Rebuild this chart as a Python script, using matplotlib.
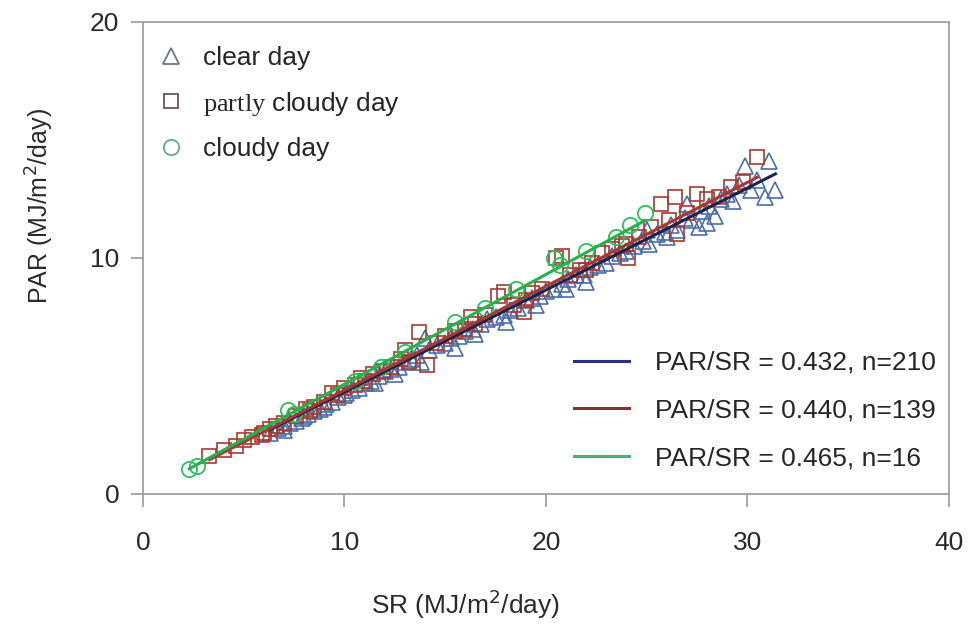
import matplotlib
matplotlib.use('Agg')
import matplotlib.pyplot as plt
from matplotlib.lines import Line2D

plt.rcParams['font.family'] = ['Liberation Sans', 'DejaVu Sans']
plt.rcParams['mathtext.fontset'] = 'custom'
plt.rcParams['mathtext.rm'] = 'Liberation Serif'

# clear day (triangles)
clear_sr = [6.3, 6.7, 7.0, 7.3, 7.6, 7.9, 8.2, 8.5, 8.8, 9.1, 9.4, 9.7, 10.1, 10.4, 10.7,
            11.0, 11.3, 11.7, 12.0, 12.3, 12.7, 13.0, 13.3, 13.6, 14.0, 14.2, 14.6, 15.0,
            15.3, 15.7, 16.0, 16.4, 16.8, 17.1, 17.5, 17.9, 18.2, 18.6, 19.0, 19.3, 19.7,
            20.0, 20.4, 20.8, 21.1, 21.5, 21.9, 22.2, 22.6, 23.0, 23.3, 23.7, 24.0, 24.4,
            24.8, 25.1, 25.5, 25.9, 26.2, 26.5, 26.9, 27.2, 27.6, 27.8, 28.1, 28.4, 28.7,
            29.0, 29.3, 29.6, 29.9, 30.2, 30.5, 30.9, 31.1, 31.4, 28.0, 27.0, 26.0, 25.0,
            22.0, 21.0, 19.5, 18.0, 16.5, 15.5, 13.8, 12.5, 11.5, 10.0, 9.0, 8.0, 7.0]
clear_par = [2.6, 2.8, 2.7, 3.0, 3.1, 3.2, 3.4, 3.5, 3.6, 3.8, 3.9, 4.1, 4.3, 4.4, 4.5,
             4.7, 4.8, 5.0, 5.2, 5.3, 5.4, 5.6, 5.7, 5.9, 6.6, 6.1, 6.3, 6.4,
             6.6, 6.7, 6.9, 7.0, 7.2, 7.4, 7.5, 7.6, 7.8, 7.9, 8.2, 8.3, 8.4,
             8.6, 8.7, 8.9, 9.1, 9.3, 9.3, 9.6, 9.7, 9.8, 10.1, 10.2, 10.3, 10.5,
             10.7, 10.6, 11.0, 11.1, 11.4, 11.2, 11.7, 11.6, 11.3, 12.0, 12.2, 11.8, 12.5,
             12.7, 12.4, 13.1, 13.9, 12.9, 13.3, 12.6, 14.1, 12.9, 11.5, 12.3, 10.9, 11.2,
             9.0, 8.7, 8.0, 7.3, 6.8, 6.2, 5.6, 5.1, 4.7, 4.2, 3.7, 3.3, 2.9]

# partly cloudy day (squares)
partly_sr = [3.3, 4.0, 4.6, 5.0, 5.4, 5.9, 6.3, 6.6, 7.0, 7.6, 8.1, 8.5, 9.0, 9.4, 9.7,
             10.0, 10.5, 11.0, 11.4, 11.9, 12.3, 12.8, 13.2, 13.7, 14.1, 14.6, 15.0, 15.5,
             16.0, 16.5, 17.0, 17.6, 17.9, 18.4, 18.9, 19.3, 19.8, 20.5, 20.8, 21.2, 21.7,
             22.3, 22.8, 23.3, 23.8, 24.1, 24.6, 25.2, 25.7, 26.1, 26.4, 26.5, 27.0, 27.5,
             28.0, 28.6, 29.2, 29.8, 30.5, 13.0, 16.3, 19.0, 22.0, 24.0, 10.8, 8.3, 6.0]
partly_par = [1.6, 1.85, 2.05, 2.3, 2.4, 2.5, 2.75, 2.9, 3.0, 3.3, 3.6, 3.7, 3.9, 4.3, 4.2,
              4.5, 4.6, 4.8, 5.1, 5.2, 5.4, 5.7, 5.6, 6.85, 5.45, 6.4, 6.7, 6.9,
              7.0, 7.2, 7.6, 8.4, 8.55, 8.0, 7.7, 8.5, 8.7, 10.0, 10.1, 9.3, 9.5,
              9.8, 10.2, 10.4, 10.5, 10.0, 10.9, 11.3, 12.3, 11.6, 12.6, 11.0, 11.9, 12.7,
              12.5, 12.6, 13.0, 13.2, 14.3, 6.1, 7.5, 8.2, 9.5, 10.6, 4.9, 3.5, 2.6]

# cloudy day (circles)
cloudy_sr = [2.3, 2.7, 7.2, 7.5, 10.5, 11.8, 13.0, 15.5, 17.0, 18.5, 20.4, 20.7, 22.0, 23.5, 24.2, 24.9]
cloudy_par = [1.05, 1.2, 3.55, 3.4, 4.8, 5.4, 6.0, 7.3, 7.9, 8.7, 10.0, 9.7, 10.3, 10.9, 11.4, 11.9]

# PAR/SR ratios and sample sizes
ratios = [0.432, 0.440, 0.465]
counts = [210, 139, 16]

fig = plt.figure(figsize=(9.73, 6.28), dpi=100)
ax = fig.add_axes([0.147, 0.2134, 0.828, 0.7516])

ax.plot(clear_sr, clear_par, '^', ms=11, mfc='none', mec='#4a6fab', mew=1.2)
ax.plot(partly_sr, partly_par, 's', ms=9.5, mfc='none', mec='#a8382f', mew=1.2)
ax.plot(cloudy_sr, cloudy_par, 'o', ms=11, mfc='none', mec='#2cbf5c', mew=1.3)

# fitted lines through origin
fit_cols = ['#1c2350', '#a63a2f', '#22b34c']
for xs, r, c in zip([clear_sr, partly_sr, cloudy_sr], ratios, fit_cols):
    x0, x1 = min(xs), max(xs)
    ax.plot([x0, x1], [r * x0, r * x1], color=c, lw=2.2)

ax.set_xlim(0, 40)
ax.set_ylim(0, 20)
ax.set_xticks([0, 10, 20, 30, 40])
ax.set_yticks([0, 10, 20])
for s in ax.spines.values():
    s.set_color('#a0a0a0')
    s.set_linewidth(1.3)
ax.tick_params(direction='out', length=9, width=1.3, color='#a0a0a0',
               labelsize=19, labelcolor='#2a2a2a')
ax.tick_params(axis='x', pad=18)
ax.tick_params(axis='y', pad=8)

ax.set_xlabel(r'SR (MJ/m$^{2}$/day)', fontsize=19, color='#2a2a2a',
              math_fontfamily='dejavusans')
ax.set_ylabel(r'PAR (MJ/m$^{2}$/day)', fontsize=18, color='#2a2a2a',
              math_fontfamily='dejavusans')
ax.xaxis.set_label_coords(0.40, -0.198)
ax.yaxis.set_label_coords(-0.108, 0.61)

# legend: markers
mk = [Line2D([], [], ls='none', marker='^', ms=12, mfc='none', mec='#6b7394', mew=1.3),
      Line2D([], [], ls='none', marker='s', ms=10, mfc='none', mec='#6e5454', mew=1.3),
      Line2D([], [], ls='none', marker='o', ms=11, mfc='none', mec='#5bb285', mew=1.3)]
leg1 = ax.legend(mk, ['clear day', r'$\mathrm{partly}$ cloudy day', 'cloudy day'],
                 loc='upper left', bbox_to_anchor=(0.02, 0.949), frameon=False,
                 fontsize=19, handlelength=0.9, handletextpad=0.75, labelspacing=0.74,
                 borderpad=0, borderaxespad=0)
for t in leg1.get_texts():
    t.set_color('#262626')
ax.add_artist(leg1)

# legend: fits
ln = [Line2D([], [], color=c, lw=2.2) for c in ['#2b3080', '#8e2e2e', '#47b07c']]
labels = ['PAR/SR = %.3f, n=%d' % (r, n) for r, n in zip(ratios, counts)]
leg2 = ax.legend(ln, labels, loc='upper left', bbox_to_anchor=(0.535, 0.303),
                 frameon=False, fontsize=19, handlelength=2.1, handletextpad=0.95,
                 labelspacing=0.9, borderpad=0, borderaxespad=0)
for t in leg2.get_texts():
    t.set_color('#262626')

fig.savefig('out.png', dpi=100)
